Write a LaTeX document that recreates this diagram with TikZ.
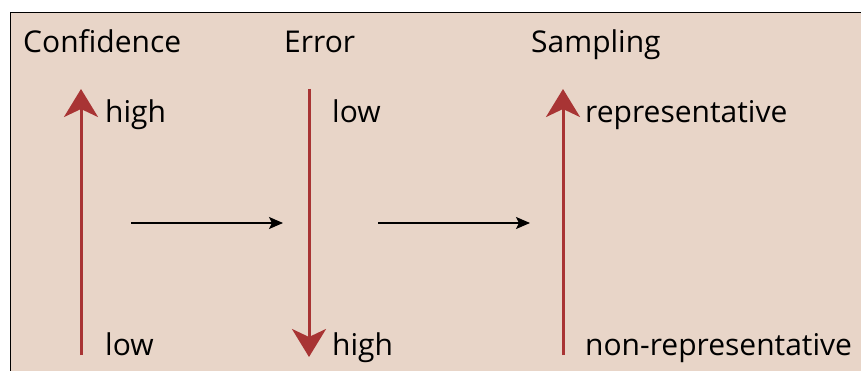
\documentclass[tikz,border=0pt]{standalone}
\usepackage{fontspec}
\setmainfont{Open Sans}
\usetikzlibrary{arrows.meta}
\definecolor{bgc}{HTML}{E8D5C8}
\definecolor{redc}{HTML}{A83434}
\begin{document}
\begin{tikzpicture}[x=1pt,y=-1pt,
  lbl/.style={anchor=base west,inner sep=0pt,font=\fontsize{30}{34}\selectfont},
  redarrow/.style={draw=redc,line width=3pt,-{Stealth[length=28pt,width=34pt,inset=8pt]}},
  blackarrow/.style={draw=black,line width=1.5pt,-{Stealth[length=14pt,width=12pt,inset=3pt]}}]
\useasboundingbox (0,0) rectangle (861,371);
\fill[bgc] (10,12) rectangle (870,380);
\draw[black,line width=1.5pt] (870,12.5) -- (10.5,12.5) -- (10.5,380);
% titles
\node[lbl] (tconf) at (23,53) {Confidence};
\node[lbl] (terr) at (284,53) {Error};
\node[lbl] (tsamp) at (531,53) {Sampling};
% labels
\node[lbl] (chigh) at (105,123) {high};
\node[lbl] (clow) at (105,355) {low};
\node[lbl] (elow) at (332,123) {low};
\node[lbl] (ehigh) at (332,355) {high};
\node[lbl] (srep) at (585,123) {representative};
\node[lbl] (snrep) at (585,355) {non-representative};
% arrow ends
\coordinate (c1) at (81,355);
\coordinate (c2) at (81,89);
\coordinate (e1) at (309,89);
\coordinate (e2) at (309,357);
\coordinate (s1) at (563,355);
\coordinate (s2) at (563,89);
\coordinate (b1) at (131,223);
\coordinate (b2) at (283,223);
\coordinate (b3) at (378,223);
\coordinate (b4) at (530,223);
\draw[redarrow] (c1) -- (c2);
\draw[redarrow] (e1) -- (e2);
\draw[redarrow] (s1) -- (s2);
\draw[blackarrow] (b1) -- (b2);
\draw[blackarrow] (b3) -- (b4);
\end{tikzpicture}
\end{document}
